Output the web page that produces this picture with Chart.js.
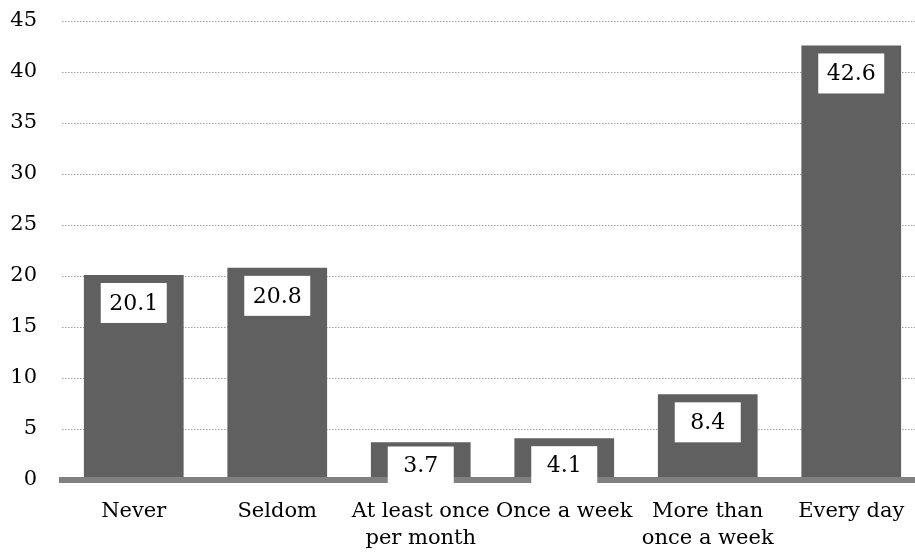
<!DOCTYPE html>
<html>
<head>
<meta charset="utf-8">
<script src="https://cdn.jsdelivr.net/npm/chart.js@4"></script>
<style>
  html, body { margin: 0; padding: 0; background: #fff; overflow: hidden; }
  #wrap { width: 923px; height: 552px; position: relative; }
</style>
</head>
<body>
<div id="wrap"><canvas id="freqChart"></canvas></div>
<script>
// ---------- Data ----------

const categories = [
    ["Never"],
    ["Seldom"],
    ["At least once", "per month"],
    ["Once a week"],
    ["More than", "once a week"],
    ["Every day"]
];

const values = [20.1, 20.8, 3.7, 4.1, 8.4, 42.6];

const yMin = 0;
const yMax = 45;
const yStep = 5;

const fontFamily = "'DejaVu Serif', serif";

// -------- Value boxes --------

const valueBoxes = {
    id: "valueBoxes",
    afterDraw(chart) {
        const ctx = chart.ctx;
        const meta = chart.getDatasetMeta(0);
        ctx.save();
        ctx.font = "22px " + fontFamily;
        ctx.textAlign = "center";
        ctx.textBaseline = "middle";
        meta.data.forEach((bar, i) => {
            const w = 66;
            let top = Math.min(bar.y + 8, bar.base - 33);
            let h = Math.min(40, bar.base + 4 - top);
            ctx.fillStyle = "#ffffff";
            ctx.fillRect(bar.x - w / 2, top, w, h);
            ctx.fillStyle = "#000000";
            ctx.fillText(values[i].toFixed(1), bar.x, top + h / 2 + 1);
        });
        ctx.restore();
    }
};

// -------- Chart --------

new Chart(document.getElementById("freqChart"), {

    type: "bar",

    data: {
        labels: categories,
        datasets: [{
            data: values,
            backgroundColor: "#606060",
            borderWidth: 0,
            barPercentage: 0.695,
            categoryPercentage: 1
        }]
    },

    options: {

        responsive: true,
        maintainAspectRatio: false,
        animation: false,
        devicePixelRatio: 1,

        layout: {
            padding: { top: 21, left: 0, right: 0, bottom: 0 }
        },

        plugins: {
            legend: { display: false },
            tooltip: { enabled: false }
        },

        scales: {

            x: {
                grid: { display: false },
                border: { display: true, color: "#808080", width: 6, z: 1 },
                ticks: {
                    color: "#000000",
                    padding: 10,
                    maxRotation: 0,
                    autoSkip: false,
                    font: { family: fontFamily, size: 21, lineHeight: 1.3 }
                },
                afterFit(scale) { scale.height = 72; }
            },

            y: {
                min: yMin,
                max: yMax,
                grid: {
                    color: "#a0a0a0",
                    lineWidth: 1,
                    drawTicks: false
                },
                border: { display: false, dash: [1.5, 1.5] },
                ticks: {
                    stepSize: yStep,
                    color: "#000000",
                    padding: 25,
                    font: { family: fontFamily, size: 21 }
                },
                afterFit(scale) {
                    scale.width = 62;
                    scale.paddingTop = 0;
                    scale.paddingBottom = 0;
                }
            }

        }

    },

    plugins: [valueBoxes]

});
</script>
</body>
</html>
